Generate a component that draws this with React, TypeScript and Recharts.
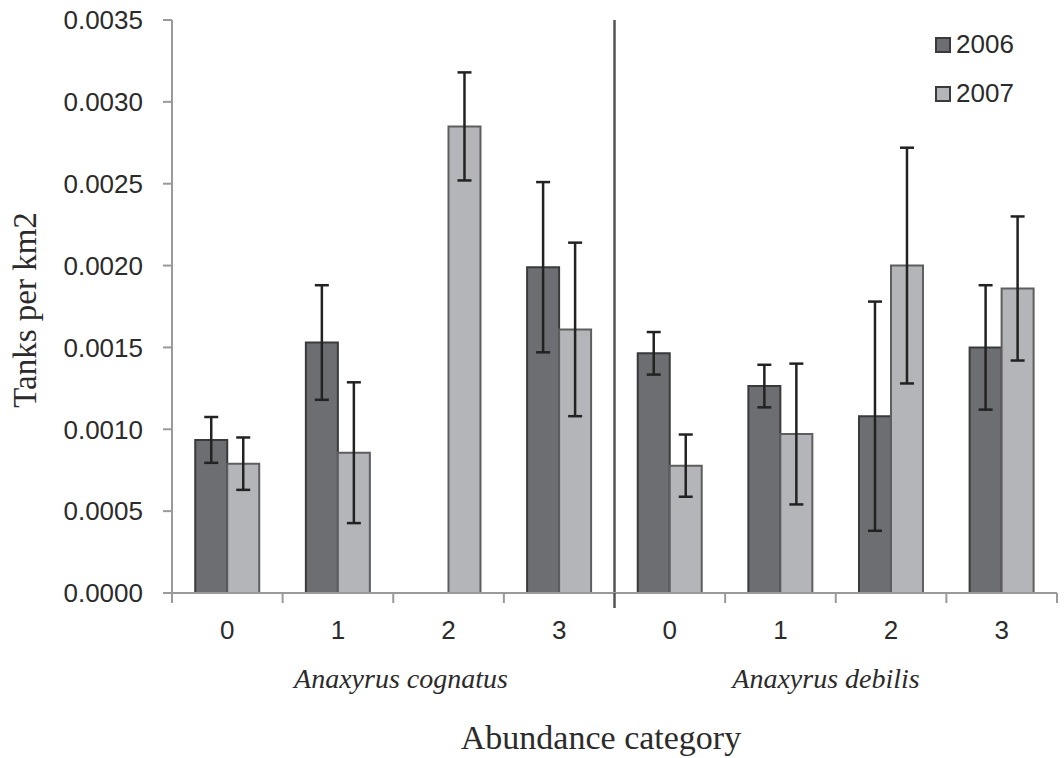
import React from 'react';
import { BarChart, Bar, XAxis, YAxis, ErrorBar, ReferenceLine, Legend } from 'recharts';

// abundance categories, first four for A. cognatus, last four for A. debilis
const categories = ['0', '1', '2', '3', '0', '1', '2', '3'];
const species = ['Anaxyrus cognatus', 'Anaxyrus debilis'];

const tanks2006 = [0.000935, 0.00153, null, 0.00199, 0.001464, 0.001264, 0.00108, 0.0015];
const err2006 = [0.00014, 0.00035, null, 0.00052, 0.00013, 0.00013, 0.0007, 0.00038];
const tanks2007 = [0.00079, 0.000857, 0.00285, 0.00161, 0.000778, 0.000971, 0.002, 0.00186];
const err2007 = [0.00016, 0.00043, 0.00033, 0.00053, 0.00019, 0.00043, 0.00072, 0.00044];

const yTicks = [0, 0.0005, 0.001, 0.0015, 0.002, 0.0025, 0.003, 0.0035];

const data = categories.map((c, i) => ({
  key: `c${i}`,
  label: c,
  y2006: tanks2006[i],
  e2006: err2006[i],
  y2007: tanks2007[i],
  e2007: err2007[i],
}));

const W = 1064;
const H = 758;
const margin = { top: 20, right: 7, bottom: 0, left: 0 };
const Y_AXIS_W = 172;
const X_AXIS_H = 165;
const band = (W - margin.left - margin.right - Y_AXIS_W) / categories.length;

const AXIS = '#9a9a9a';
const TEXT = '#2b2b2b';
const NUM_FONT = 'Liberation Sans';
const SERIF = 'Liberation Serif';

const XTick = (props: any) => {
  const { x, y, payload, index } = props;
  const half = band / 2;
  const lbl = data[index] ? data[index].label : payload.value;
  return (
    <g>
      {index === 4 ? (
        <line x1={x - half} x2={x - half} y1={y} y2={y + 15} stroke="#555" strokeWidth={2.5} />
      ) : (
        <line x1={x - half} x2={x - half} y1={y} y2={y + 10} stroke={AXIS} strokeWidth={2} />
      )}
      {index === categories.length - 1 && (
        <line x1={x + half} x2={x + half} y1={y} y2={y + 10} stroke={AXIS} strokeWidth={2} />
      )}
      <text x={x} y={y + 46} textAnchor="middle" fontFamily={NUM_FONT} fontSize={26} fill={TEXT}>
        {lbl}
      </text>
    </g>
  );
};

const LegendBox = (props: any) => {
  const items = props.payload || [];
  return (
    <div style={{ fontFamily: NUM_FONT, fontSize: 26, color: TEXT }}>
      {items.map((it: any) => (
        <div key={it.value} style={{ display: 'flex', alignItems: 'center', height: 49 }}>
          <span
            style={{
              display: 'inline-block',
              width: 16,
              height: 16,
              boxSizing: 'border-box',
              background: it.color,
              border: '2px solid #3a3a3c',
              marginRight: 5,
            }}
          />
          <span>{it.value}</span>
        </div>
      ))}
    </div>
  );
};

export default function App() {
  return (
    <div style={{ position: 'absolute', left: 0, top: 0, width: W, height: H, background: '#fff' }}>
      <BarChart width={W} height={H} data={data} margin={margin} barGap={0} barCategoryGap="21%">
        <XAxis
          dataKey="key"
          height={X_AXIS_H}
          interval={0}
          tickSize={0}
          tickMargin={0}
          tickLine={false}
          axisLine={{ stroke: AXIS, strokeWidth: 2 }}
          tick={<XTick />}
        />
        <YAxis
          width={Y_AXIS_W}
          domain={[0, 0.0035]}
          ticks={yTicks}
          interval={0}
          tickSize={9}
          tickMargin={20}
          tickFormatter={(v: number) => v.toFixed(4)}
          axisLine={{ stroke: AXIS, strokeWidth: 2 }}
          tickLine={{ stroke: AXIS, strokeWidth: 2 }}
          tick={{ fill: TEXT, fontSize: 26, fontFamily: NUM_FONT }}
        />
        <Legend
          layout="vertical"
          align="center"
          verticalAlign="middle"
          wrapperStyle={{ top: 20, left: 935, width: 'auto' }}
          content={<LegendBox />}
        />
        <Bar dataKey="y2006" name="2006" fill="#6d6e72" stroke="#3a3a3c" strokeWidth={2} isAnimationActive={false}>
          <ErrorBar dataKey="e2006" width={7} stroke="#222" strokeWidth={2.5} />
        </Bar>
        <Bar dataKey="y2007" name="2007" fill="#b4b5b9" stroke="#5e5e60" strokeWidth={2} isAnimationActive={false}>
          <ErrorBar dataKey="e2007" width={7} stroke="#222" strokeWidth={2.5} />
        </Bar>
        <ReferenceLine x="c4" position="start" stroke="#555" strokeWidth={2.5} />
      </BarChart>
      <svg
        width={W}
        height={H}
        style={{ position: 'absolute', left: 0, top: 0, pointerEvents: 'none' }}
      >
        <text
          x={36}
          y={310}
          transform="rotate(-90, 36, 310)"
          textAnchor="middle"
          fontFamily={SERIF}
          fontSize={33}
          fill={TEXT}
        >
          Tanks per km2
        </text>
        <text x={401} y={688} textAnchor="middle" fontFamily={SERIF} fontStyle="italic" fontSize={28} fill={TEXT}>
          {species[0]}
        </text>
        <text x={826} y={688} textAnchor="middle" fontFamily={SERIF} fontStyle="italic" fontSize={28} fill={TEXT}>
          {species[1]}
        </text>
        <text x={601} y={749} textAnchor="middle" fontFamily={SERIF} fontSize={34} fill={TEXT}>
          Abundance category
        </text>
      </svg>
    </div>
  );
}
